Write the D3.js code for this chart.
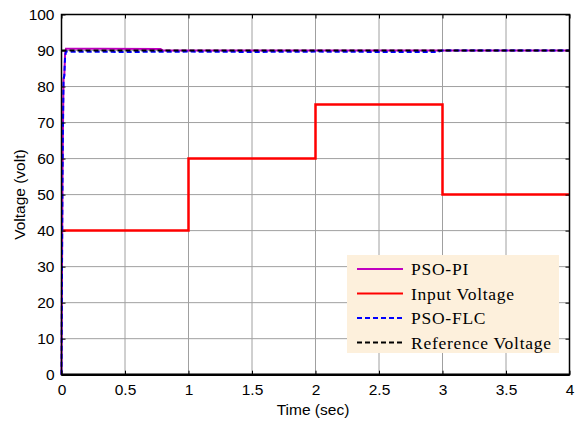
<!DOCTYPE html>
<html>
<head>
<meta charset="utf-8">
<script src="https://cdn.jsdelivr.net/npm/d3@7"></script>
<style>
  body { margin: 0; background: #fff; }
  .axis text { font-family: "Liberation Sans", Arial, sans-serif; font-size: 15.5px; fill: #000; }
  .legend text { font-family: "Liberation Serif", "Times New Roman", serif; font-size: 17.5px; letter-spacing: 0.75px; fill: #000; }
</style>
</head>
<body>
<svg id="chart"></svg>
<script>
// data
var xTicks = [0, 0.5, 1, 1.5, 2, 2.5, 3, 3.5, 4];
var yTicks = [0, 10, 20, 30, 40, 50, 60, 70, 80, 90, 100];

var inputT = [0, 1, 1, 2, 2, 3, 3, 4];
var inputV = [40, 40, 60, 60, 75, 75, 50, 50];

var piT = [0, 0.004, 0.008, 0.012, 0.016, 0.022, 0.028, 0.035, 0.3, 0.78, 0.8, 4];
var piV = [0, 30, 55, 70, 82, 83, 89, 90.5, 90.5, 90.4, 90, 90];

var flcT = [0, 0.004, 0.008, 0.012, 0.016, 0.022, 0.028, 0.035, 0.5, 1, 1.5, 2, 2.5, 2.95, 3, 4];
var flcV = [0, 30, 55, 70, 82, 83, 88, 89.7, 89.6, 89.7, 89.6, 89.7, 89.6, 89.6, 90, 90];

var refT = [0, 4];
var refV = [90, 90];

var seriesNames = ["PSO-PI", "Input Voltage", "PSO-FLC", "Reference Voltage"];

var width = 580, height = 421;
var pLeft = 61.5, pRight = 569.5, pTop = 14.5, pBottom = 374.7;

var svg = d3.select("#chart").attr("width", width).attr("height", height);

var x = d3.scaleLinear().domain([0, 4]).range([pLeft, pRight]);
var y = d3.scaleLinear().domain([0, 100]).range([pBottom, pTop]);

// grid
svg.append("g").selectAll("line").data(xTicks.slice(1, -1)).enter().append("line")
  .attr("x1", d => x(d)).attr("x2", d => x(d)).attr("y1", pTop).attr("y2", pBottom)
  .attr("stroke", "#a0a0a0").attr("stroke-width", 1);
svg.append("g").selectAll("line").data(yTicks.slice(1, -1)).enter().append("line")
  .attr("y1", d => y(d)).attr("y2", d => y(d)).attr("x1", pLeft).attr("x2", pRight)
  .attr("stroke", "#a0a0a0").attr("stroke-width", 1);

function pts(t, v) { return t.map((d, i) => [d, v[i]]); }
var line = d3.line().x(d => x(d[0])).y(d => y(d[1]));

svg.append("path").datum(pts(inputT, inputV)).attr("d", line)
  .attr("fill", "none").attr("stroke", "#ff0000").attr("stroke-width", 2.5);
svg.append("path").datum(pts(piT, piV)).attr("d", line)
  .attr("fill", "none").attr("stroke", "#c000c0").attr("stroke-width", 2);
svg.append("path").datum(pts(flcT, flcV)).attr("d", line)
  .attr("fill", "none").attr("stroke", "#0000ff").attr("stroke-width", 2)
  .attr("stroke-dasharray", "5,3");
svg.append("path").datum(pts(refT, refV)).attr("d", line)
  .attr("fill", "none").attr("stroke", "#000").attr("stroke-width", 2)
  .attr("stroke-dasharray", "5,3");

// axes
var gx = svg.append("g").attr("class", "axis").attr("transform", "translate(0," + pBottom + ")")
  .call(d3.axisBottom(x).tickValues(xTicks).tickSize(-4).tickPadding(9).tickFormat(d3.format("")));
var gy = svg.append("g").attr("class", "axis").attr("transform", "translate(" + pLeft + ",0)")
  .call(d3.axisLeft(y).tickValues(yTicks).tickSize(-4).tickPadding(7));
var gx2 = svg.append("g").attr("class", "axis").attr("transform", "translate(0," + pTop + ")")
  .call(d3.axisTop(x).tickValues(xTicks).tickSize(-4).tickFormat(""));
var gy2 = svg.append("g").attr("class", "axis").attr("transform", "translate(" + pRight + ",0)")
  .call(d3.axisRight(y).tickValues(yTicks).tickSize(-4).tickFormat(""));
[gx, gy, gx2, gy2].forEach(function(g) {
  g.select(".domain").remove();
  g.selectAll(".tick line").attr("stroke", "#000");
});
svg.append("rect").attr("x", pLeft).attr("y", pTop).attr("width", pRight - pLeft).attr("height", pBottom - pTop)
  .attr("fill", "none").attr("stroke", "#000").attr("stroke-width", 1.5);
svg.append("line").attr("x1", pLeft).attr("x2", pRight).attr("y1", pBottom).attr("y2", pBottom)
  .attr("stroke", "#000").attr("stroke-width", 2.5);

svg.append("text").attr("x", 313).attr("y", 415)
  .attr("text-anchor", "middle").style("font-family", "Liberation Sans, Arial, sans-serif")
  .style("font-size", "15.5px").text("Time (sec)");
svg.append("text").attr("transform", "translate(25," + y(50) + ") rotate(-90)")
  .attr("text-anchor", "middle").style("font-family", "Liberation Sans, Arial, sans-serif")
  .style("font-size", "15.5px").text("Voltage (volt)");

// legend
var lg = svg.append("g").attr("class", "legend");
lg.append("rect").attr("x", 347).attr("y", 255).attr("width", 212).attr("height", 98)
  .attr("fill", "#fdf0dc");
var legColors = ["#c000c0", "#ff0000", "#0000ff", "#000"];
var legDash = [null, null, "5,3", "5,3"];
seriesNames.forEach(function(name, i) {
  var yy = 269 + i * 24.5;
  lg.append("line").attr("x1", 357).attr("x2", 403).attr("y1", yy).attr("y2", yy)
    .attr("stroke", legColors[i]).attr("stroke-width", 2).attr("stroke-dasharray", legDash[i]);
  lg.append("text").attr("x", 411).attr("y", yy + 6).text(name);
});
</script>
</body>
</html>
